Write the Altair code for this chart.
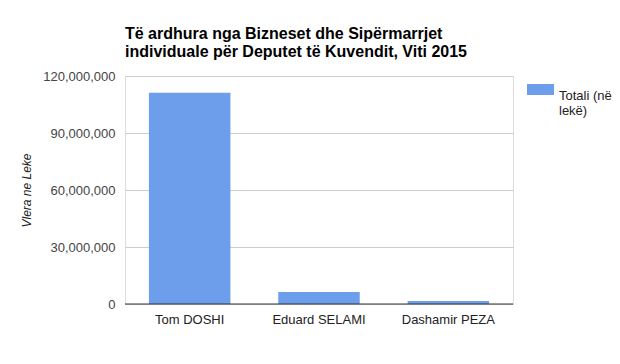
import altair as alt
import pandas as pd

names = ["Tom DOSHI", "Eduard SELAMI", "Dashamir PEZA"]
values = [111200000, 6300000, 1600000]
series = ["Totali (në lekë)"] * 3
y_ticks = [0, 30000000, 60000000, 90000000, 120000000]

df = pd.DataFrame({"name": names, "value": values, "series": series})

FONT = "Liberation Sans"

chart = alt.Chart(df).mark_bar(color="#6d9eeb").encode(
    x=alt.X("name:N", sort=names, title=None,
            scale=alt.Scale(paddingInner=0.37, paddingOuter=0.185),
            axis=alt.Axis(labelAngle=0, labelFontSize=13, labelColor="#222222",
                          labelFont=FONT, ticks=False, domainColor="#333333",
                          labelPadding=9, domain=False)),
    y=alt.Y("value:Q", title="Vlera ne Leke",
            scale=alt.Scale(domain=[0, 120000000], nice=False),
            axis=alt.Axis(values=y_ticks, format=",d", labelFontSize=13,
                          labelColor="#444444", labelFont=FONT, ticks=False,
                          domain=False, gridColor="#cccccc", labelPadding=10,
                          titleFont=FONT, titleFontStyle="italic",
                          titleFontWeight="normal", titleFontSize=12,
                          titleColor="#222222", titleX=-99, titleY=114,
                          titleAngle=-90, titleAlign="center", titleBaseline="middle")),
    fill=alt.Fill("series:N", title=None,
                  scale=alt.Scale(range=["#6d9eeb"]),
                  legend=alt.Legend(orient="none", legendX=402, legendY=0,
                                    symbolType="M-1,-0.407H1V0.407H-1Z",
                                    symbolSize=729, symbolStrokeWidth=0,
                                    labelFont=FONT, labelFontSize=13,
                                    labelColor="#222222", labelOffset=5,
                                    labelExpr="datum.label == 'Totali (në lekë)' ? ['Totali (në', 'lekë)'] : datum.label",
                                    labelBaseline="top"))
)

baseline = alt.Chart(pd.DataFrame({"y": [0]})).mark_rule(color="#333333", strokeWidth=1).encode(
    y=alt.Y("y:Q", scale=alt.Scale(domain=[0, 120000000], nice=False))
)

final = alt.layer(chart, baseline).properties(
    width=388, height=228,
    autosize=alt.AutoSizeParams(type="none"),
    padding={"left": 117, "top": 68, "right": 99, "bottom": 52},
    title=alt.Title(["Të ardhura nga Bizneset dhe Sipërmarrjet",
                     "individuale për Deputet të Kuvendit, Viti 2015"],
                    anchor="start", font=FONT, fontSize=16, fontWeight="bold",
                    color="#000000", lineHeight=18, dx=0, offset=10, frame="group")
).configure_view(stroke=None).configure(background="white")

final.save("out.html", embed_options={"renderer": "svg", "actions": False})
